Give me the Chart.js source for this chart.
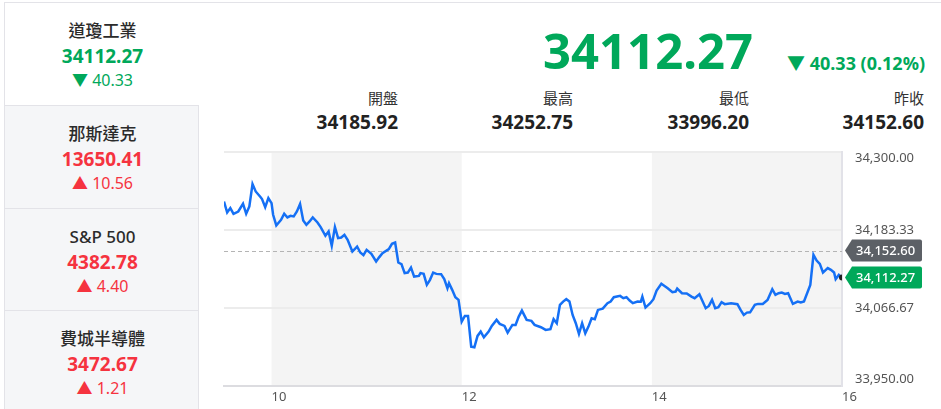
<!DOCTYPE html>
<html>
<head>
<meta charset="utf-8">
<script src="https://cdn.jsdelivr.net/npm/chart.js@4.4.0/dist/chart.umd.min.js"></script>
<style>
  body { margin:0; width:941px; height:409px; overflow:hidden; background:#fff;
    font-family:"Noto Sans","Noto Sans CJK TC",sans-serif; position:relative; }
  .abs { position:absolute; white-space:nowrap; line-height:1; }
  .topline { position:absolute; left:4px; right:0; top:2px; height:1px; background:#e3e3e8; }
  .card { position:absolute; left:4px; width:195px; box-sizing:border-box; border-left:1px solid #e3e3e8; }
  .card.off { background:#f5f6f8; border-top:1px solid #e3e3e8; border-right:1px solid #e3e3e8; }
  .ctitle, .cval, .cchg { position:absolute; left:0; width:195px; text-align:center; line-height:1; white-space:nowrap; }
  .ctitle { font-size:17px; font-weight:500; color:#2b2b2b; }
  .cval { font-size:19px; font-weight:700; }
  .cchg { font-size:16px; }
  .green { color:#00a85a; }
  .red { color:#f5333f; }
  .lab { font-size:15px; color:#333; text-align:right; }
  .num { font-size:19px; font-weight:700; color:#222; text-align:right; }
  #wrap { position:absolute; left:210px; top:140px; width:731px; height:269px; }
</style>
</head>
<body>
<div class="topline"></div>
<div id="cards"></div>

<div class="abs green" style="right:188px; top:26px; font-size:49px; font-weight:700;">34112.27</div>
<div class="abs green" style="right:16px; top:54px; font-size:18px; font-weight:700;">▼ 40.33 (0.12%)</div>
<div id="stats"></div>

<div id="wrap"><canvas id="dowChart" width="731" height="269"></canvas></div>

<script>
// side list
const indexNames = ["道瓊工業", "那斯達克", "S&P 500", "費城半導體"];
const indexValues = ["34112.27", "13650.41", "4382.78", "3472.67"];
const indexChanges = ["▼ 40.33", "▲ 10.56", "▲ 4.40", "▲ 1.21"];
const indexUp = [false, true, true, true];

// header stats
const statLabels = ["開盤", "最高", "最低", "昨收"];
const statValues = ["34185.92", "34252.75", "33996.20", "34152.60"];

const prevClose = 34152.60;
const lastValue = 34112.27;

// intraday series
const times = [
  "09:30","09:32","09:34","09:36","09:39","09:42","09:44","09:46","09:48","09:50",
  "09:53","09:54","09:56","09:58","10:00","10:01","10:03","10:06","10:08","10:10",
  "10:12","10:14","10:16","10:18","10:20","10:22","10:24","10:26","10:29","10:31",
  "10:34","10:36","10:38","10:40","10:42","10:44","10:46","10:48","10:51","10:54",
  "10:56","10:58","11:00","11:03","11:06","11:08","11:10","11:14","11:16","11:18",
  "11:20","11:22","11:24","11:26","11:28","11:30","11:33","11:34","11:36","11:38",
  "11:40","11:42","11:44","11:47","11:49","11:51","11:52","11:54","11:56","11:58",
  "12:00","12:02","12:04","12:06","12:08","12:10","12:12","12:14","12:17","12:19",
  "12:22","12:24","12:27","12:29","12:32","12:34","12:36","12:38","12:41","12:44",
  "12:46","12:50","12:53","12:56","12:58","13:00","13:02","13:04","13:06","13:08",
  "13:10","13:12","13:14","13:16","13:18","13:20","13:22","13:24","13:26","13:29",
  "13:32","13:34","13:36","13:40","13:42","13:44","13:46","13:48","13:51","13:53",
  "13:54","13:56","13:59","14:01","14:03","14:06","14:10","14:13","14:15","14:16",
  "14:19","14:22","14:25","14:27","14:30","14:34","14:36","14:38","14:40","14:42",
  "14:44","14:46","14:50","14:54","14:56","14:58","15:00","15:02","15:05","15:07",
  "15:10","15:13","15:16","15:18","15:20","15:22","15:24","15:26","15:29","15:32",
  "15:34","15:36","15:40","15:42","15:44","15:46","15:48","15:51","15:53","15:55",
  "15:56","15:58","16:00"
];
const values = [
  34226.0,34209.5,34216.1,34207.6,34211.0,34222.6,34207.6,34218.5,34252.1,34241.0,
  34232.6,34229.6,34217.6,34231.1,34223.6,34206.1,34190.1,34198.6,34207.6,34202.1,
  34204.6,34203.6,34211.0,34222.1,34197.6,34191.1,34196.1,34202.1,34194.6,34187.7,
  34174.7,34181.1,34159.7,34187.7,34171.2,34172.1,34176.1,34168.7,34151.1,34158.6,
  34149.6,34145.7,34153.7,34147.7,34136.2,34142.8,34148.7,34154.7,34162.7,34164.6,
  34134.7,34132.3,34118.8,34119.7,34127.2,34113.7,34114.7,34118.8,34117.7,34101.3,
  34108.8,34119.7,34117.7,34117.3,34109.8,34096.3,34103.8,34093.8,34082.8,34078.8,
  34046.3,34054.8,34054.8,34008.9,34008.0,34024.9,34031.3,34022.9,34031.3,34039.9,
  34048.9,34042.9,34039.9,34029.8,34041.4,34041.4,34053.8,34062.8,34048.9,34047.4,
  34041.4,34037.9,34033.9,34034.9,34049.9,34043.9,34071.3,34076.3,34079.9,34076.3,
  34056.3,34043.9,34027.9,34043.9,34028.9,34038.8,34051.4,34049.9,34063.8,34065.8,
  34073.9,34076.3,34082.8,34084.8,34081.4,34082.8,34077.8,34073.9,34076.3,34076.0,
  34083.7,34067.3,34073.9,34079.9,34092.7,34102.8,34096.3,34090.3,34091.2,34095.7,
  34088.8,34088.5,34083.7,34081.4,34087.3,34066.4,34069.8,34078.8,34066.4,34067.9,
  34075.4,34072.4,34073.9,34072.4,34063.8,34056.3,34059.8,34060.2,34071.3,34072.8,
  34072.8,34078.8,34094.8,34086.3,34088.8,34089.7,34087.8,34088.8,34072.8,34076.3,
  34074.8,34076.3,34101.3,34146.2,34137.7,34132.7,34119.7,34126.3,34123.7,34119.7,
  34109.8,34116.2,34112.27
];

const xTicks = [10, 12, 14, 16];
const yTicks = [33950, 34066.67, 34183.33, 34300];
const shadeBands = [[10, 12], [14, 16]];


// build the left list
const cardTops = [3, 105, 208, 310];
let cardsHtml = "";
for (let i = 0; i < indexNames.length; i++) {
  const top = cardTops[i];
  const h = (i < 3 ? cardTops[i+1] : 409) - top;
  const cls = i === 0 ? "card" : "card off";
  const col = indexUp[i] ? "red" : "green";
  cardsHtml += `<div class="${cls}" style="top:${top}px;height:${h}px;">
    <div class="ctitle" style="top:19px;">${indexNames[i]}</div>
    <div class="cval ${col}" style="top:44px;">${indexValues[i]}</div>
    <div class="cchg ${col}" style="top:69px;">${indexChanges[i]}</div>
  </div>`;
}
document.getElementById("cards").innerHTML = cardsHtml;

// header stats
const statRights = [398, 573, 749, 924];
let statsHtml = "";
for (let i = 0; i < statLabels.length; i++) {
  const r = 941 - statRights[i];
  statsHtml += `<div class="abs lab" style="right:${r}px;top:91px;">${statLabels[i]}</div>`;
  statsHtml += `<div class="abs num" style="right:${r}px;top:113px;">${statValues[i]}</div>`;
}
document.getElementById("stats").innerHTML = statsHtml;


function toHours(t) {
  const p = t.split(":");
  return Number(p[0]) + Number(p[1]) / 60;
}

function fmt(v) {
  return v.toLocaleString("en-US", {minimumFractionDigits: 2, maximumFractionDigits: 2});
}

const bandsPlugin = {
  id: "bands",
  beforeDraw(chart) {
    const {ctx, chartArea, scales} = chart;
    ctx.save();
    ctx.fillStyle = "#f4f4f4";
    shadeBands.forEach(b => {
      const x1 = scales.x.getPixelForValue(b[0]);
      const x2 = scales.x.getPixelForValue(b[1]);
      ctx.fillRect(x1, chartArea.top, x2 - x1, chartArea.bottom - chartArea.top);
    });
    ctx.restore();
  },
  beforeDatasetsDraw(chart) {
    const {ctx, chartArea, scales} = chart;
    const y = Math.round(scales.y.getPixelForValue(prevClose)) + 0.5;
    ctx.save();
    ctx.strokeStyle = "#b4b4b4";
    ctx.lineWidth = 1;
    ctx.setLineDash([4, 3]);
    ctx.beginPath();
    ctx.moveTo(chartArea.left, y);
    ctx.lineTo(chartArea.right, y);
    ctx.stroke();
    ctx.restore();
  },
  afterDraw(chart) {
    const {ctx, chartArea, scales} = chart;
    function badge(value, color) {
      const y = scales.y.getPixelForValue(value);
      const x0 = chartArea.right + 3;
      const h = 22, w = 77, r = 2;
      ctx.save();
      ctx.fillStyle = color;
      ctx.beginPath();
      ctx.moveTo(x0, y);
      ctx.lineTo(x0 + 7, y - h/2);
      ctx.lineTo(x0 + w - r, y - h/2);
      ctx.quadraticCurveTo(x0 + w, y - h/2, x0 + w, y - h/2 + r);
      ctx.lineTo(x0 + w, y + h/2 - r);
      ctx.quadraticCurveTo(x0 + w, y + h/2, x0 + w - r, y + h/2);
      ctx.lineTo(x0 + 7, y + h/2);
      ctx.closePath();
      ctx.fill();
      ctx.fillStyle = "#fff";
      ctx.font = "500 13px 'Noto Sans'";
      ctx.textBaseline = "middle";
      ctx.textAlign = "left";
      ctx.fillText(fmt(value), x0 + 11, y + 0.5);
      ctx.restore();
    }
    badge(prevClose, "#5c6066");
    badge(lastValue, "#00a85a");
  }
};

const ctx = document.getElementById("dowChart").getContext("2d");
let chart = new Chart(ctx, {
  type: "line",
  data: {
    datasets: [{
      data: times.map((t, i) => ({x: toHours(t), y: values[i]})),
      borderColor: "#1570f5",
      borderWidth: 2.5,
      tension: 0,
      pointRadius: c => c.dataIndex === values.length - 1 ? 3 : 0,
      pointBackgroundColor: "#222",
      pointBorderWidth: 0,
      fill: false
    }]
  },
  options: {
    responsive: false,
    animation: false,
    events: [],
    layout: { padding: { left: 14, top: 12, right: 0, bottom: 0 } },
    plugins: { legend: { display: false }, tooltip: { enabled: false } },
    scales: {
      x: {
        type: "linear",
        min: 9.5,
        max: 16,
        afterBuildTicks: s => { s.ticks = xTicks.map(v => ({value: v})); },
        afterFit: s => { s.height = 23; s.paddingLeft = 0; s.paddingRight = 0; },
        grid: { display: false, drawTicks: false },
        border: { display: true, color: "#dcdce0", width: 2 },
        ticks: {
          autoSkip: false, maxRotation: 0, align: "start", padding: 3,
          color: "#555", font: { family: "Noto Sans", size: 13 },
          callback: v => String(v)
        }
      },
      y: {
        position: "right",
        min: 33950,
        max: 34300,
        afterBuildTicks: s => { s.ticks = yTicks.map(v => ({value: v})); },
        afterFit: s => { s.width = 99; s.paddingTop = 0; s.paddingBottom = 0; },
        grid: { color: "#ececec", lineWidth: 2, drawTicks: false },
        border: { display: true, color: "#e2e2e8", width: 2 },
        ticks: {
          padding: 13, color: "#555",
          font: { family: "Noto Sans", size: 13, lineHeight: 1 },
          callback: v => {
            const s = fmt(v);
            if (v === yTicks[yTicks.length - 1]) return ["", s];
            if (v === yTicks[0]) return [s, ""];
            return s;
          }
        }
      }
    }
  },
  plugins: [bandsPlugin]
});
</script>
</body>
</html>
